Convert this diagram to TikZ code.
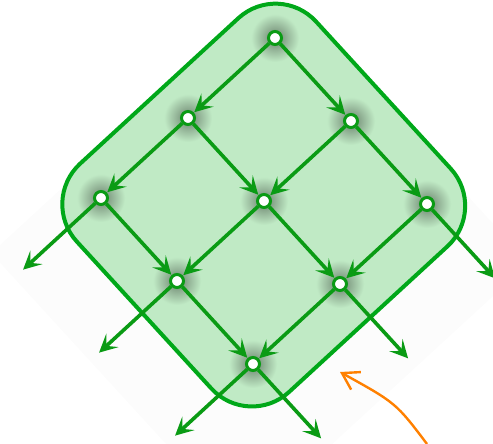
\documentclass[tikz,border=0pt]{standalone}
\usetikzlibrary{arrows.meta}
\definecolor{latline}{RGB}{0,168,25}
\definecolor{latfill}{RGB}{192,234,197}
\definecolor{latarrow}{RGB}{10,155,20}
\definecolor{pointer}{RGB}{255,128,0}

\begin{document}
\begin{tikzpicture}[x=1pt, y=1pt,
	dot/.style={circle, draw=latarrow, fill=white, line width=3pt, inner sep=0pt, minimum size=13pt},
	flow/.style={draw=latarrow, line width=3.6pt, -{Stealth[length=18pt, width=18pt, inset=8pt]}, shorten >=0.5pt},
	lattice/.style={shift={(275,406)}, x={(-87pt,-80pt)}, y={(76pt,-83pt)}}]
	\useasboundingbox (0,0) rectangle (493,444);
	\begin{scope}[lattice]
		% Paths, nodes and wires:
		\fill[black!1] (-0.3,-0.3) -- (3,-0.3) -- (3,3) -- (-0.3,3) -- cycle;
		\fill[latfill, rounded corners=55pt] (-0.35,-0.35) -- (2.4,-0.35) -- (2.4,2.4) -- (-0.35,2.4) -- cycle;
		\begin{scope}
			\clip[rounded corners=55pt] (-0.35,-0.35) -- (2.4,-0.35) -- (2.4,2.4) -- (-0.35,2.4) -- cycle;
			\foreach \u in {0,1,2} \foreach \v in {0,1,2}
				\shade[inner color=latfill!55!black, outer color=latfill] (\u,\v) circle (24pt);
		\end{scope}
		\draw[latline, line width=4pt, rounded corners=55pt] (-0.35,-0.35) -- (2.4,-0.35) -- (2.4,2.4) -- (-0.35,2.4) -- cycle;
		\foreach \u in {0,1,2} \foreach \v in {0,1,2}
			\node[dot] (n\u\v) at (\u,\v){};
		\foreach \u/\w in {0/1, 1/2} \foreach \v in {0,1,2}
			\draw[flow] (n\u\v) -- (n\w\v);
		\foreach \v/\w in {0/1, 1/2} \foreach \u in {0,1,2}
			\draw[flow] (n\u\v) -- (n\u\w);
		\foreach \v in {0,1,2}{
			\coordinate (sw\v) at (2.9,\v);
			\draw[flow] (n2\v) -- (sw\v);
		}
		\foreach \u in {0,1,2}{
			\coordinate (se\u) at (\u,2.9);
			\draw[flow] (n\u2) -- (se\u);
		}
	\end{scope}
	\coordinate (src) at (427,0);
	\coordinate (hit) at (340,72);
	\draw[pointer, line width=2.4pt, -{Straight Barb[length=16pt, width=20pt]}] (src) .. controls (396,41) .. (hit);
\end{tikzpicture}
\end{document}
